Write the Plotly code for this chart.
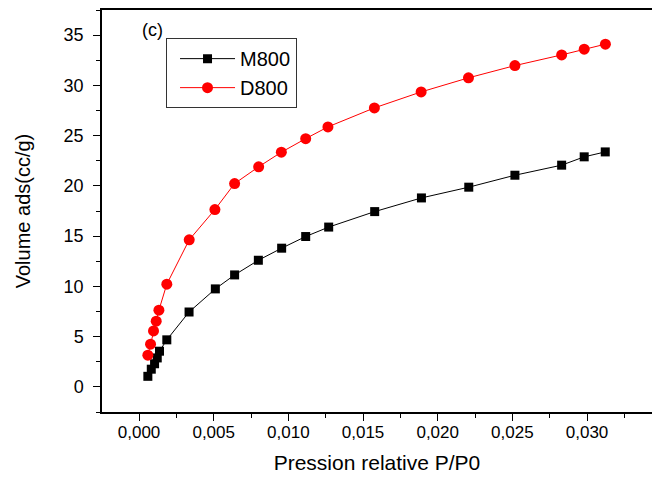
import plotly.graph_objects as go

# M800 series
m800_x = [0.00059, 0.00082, 0.00104, 0.00122, 0.00137, 0.00186, 0.00335, 0.00511,
          0.0064, 0.00799, 0.00955, 0.01116, 0.0127, 0.01578, 0.01891, 0.02208,
          0.02517, 0.0283, 0.02981, 0.03122]
m800_y = [1.05, 1.76, 2.3, 2.88, 3.55, 4.68, 7.45, 9.75,
          11.14, 12.6, 13.8, 14.96, 15.9, 17.44, 18.8, 19.87,
          21.06, 22.06, 22.89, 23.38]

# D800 series
d800_x = [0.00059, 0.00077, 0.00097, 0.00115, 0.00133, 0.00186, 0.00336, 0.00508,
          0.0064, 0.00801, 0.00953, 0.01116, 0.01265, 0.01576, 0.01889, 0.02206,
          0.02517, 0.0283, 0.02981, 0.03123]
d800_y = [3.15, 4.25, 5.57, 6.54, 7.63, 10.22, 14.63, 17.64,
          20.23, 21.9, 23.35, 24.7, 25.87, 27.76, 29.35, 30.75,
          31.97, 33.03, 33.6, 34.1]

x_ticks = [0.0, 0.005, 0.010, 0.015, 0.020, 0.025, 0.030]
y_ticks = [0, 5, 10, 15, 20, 25, 30, 35]

FONT = "Liberation Sans, Arial, sans-serif"

fig = go.Figure()
fig.add_trace(go.Scatter(
    x=m800_x, y=m800_y, name="M800", mode="lines+markers",
    line=dict(color="black", width=1),
    marker=dict(symbol="square", size=9, color="black"),
))
fig.add_trace(go.Scatter(
    x=d800_x, y=d800_y, name="D800", mode="lines+markers",
    line=dict(color="red", width=1),
    marker=dict(symbol="circle", size=11, color="red"),
))

fig.update_layout(
    width=652, height=479,
    margin=dict(l=102, r=0, t=10, b=67),
    paper_bgcolor="white", plot_bgcolor="white",
    separators=", ",
    font=dict(family=FONT, color="black"),
    showlegend=True,
    legend=dict(
        x=0.1164, y=0.93, xanchor="left", yanchor="top",
        bordercolor="#333333", borderwidth=1, bgcolor="white",
        font=dict(size=20, family=FONT, color="black"),
        itemwidth=55, indentation=8, tracegroupgap=0,
    ),
    xaxis=dict(
        range=[-0.00248, 0.03435],
        tickvals=x_ticks, tickformat=".3f",
        ticks="outside", ticklen=7, tickwidth=1, tickcolor="black",
        minor=dict(dtick=0.0025, tick0=0, ticks="outside", ticklen=4, tickcolor="black", showgrid=False),
        showline=True, linecolor="black", linewidth=1.5, mirror=True,
        showgrid=False, zeroline=False,
        tickfont=dict(size=17, family=FONT),
        ticklabelstandoff=-3,
        title=dict(text="Pression relative P/P0", font=dict(size=21, family=FONT), standoff=14),
    ),
    yaxis=dict(
        range=[-2.5, 37.5],
        tickvals=y_ticks,
        ticks="outside", ticklen=7, tickwidth=1, tickcolor="black",
        minor=dict(dtick=2.5, tick0=0, ticks="outside", ticklen=4, tickcolor="black", showgrid=False),
        showline=True, linecolor="black", linewidth=1.5, mirror=False,
        showgrid=False, zeroline=False,
        tickfont=dict(size=18, family=FONT),
        ticklabelstandoff=6,
        title=dict(text="Volume ads(cc/g)", font=dict(size=20, family=FONT), standoff=28),
    ),
    annotations=[dict(
        text="(c)", xref="paper", yref="paper",
        x=(152 - 102) / 550, y=(412 - 30) / 402,
        xanchor="center", yanchor="middle", showarrow=False,
        font=dict(size=18, family=FONT, color="black"),
    )],
)

fig.write_html("out.html")
